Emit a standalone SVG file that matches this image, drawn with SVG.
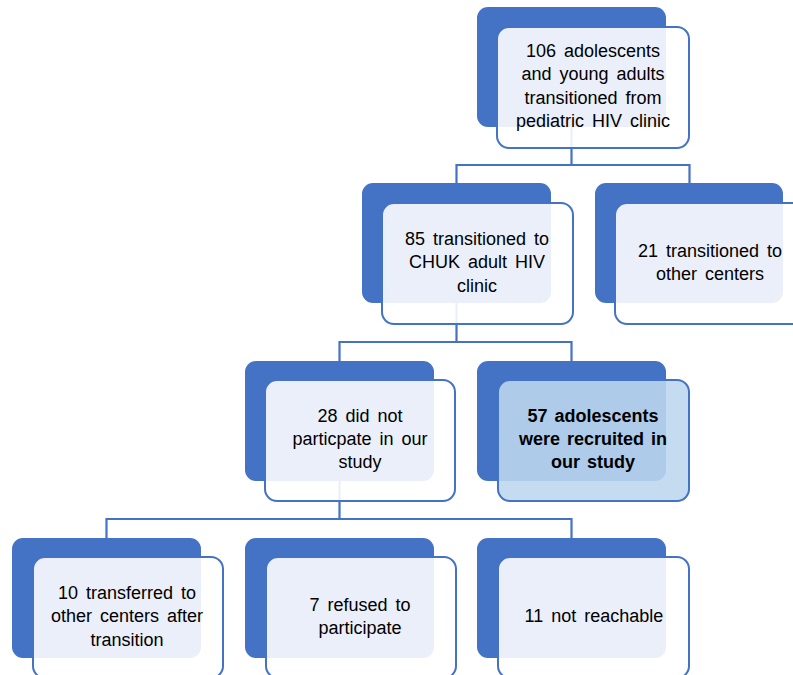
<svg xmlns="http://www.w3.org/2000/svg" width="793" height="675" viewBox="0 0 793 675">
<style>
.back{fill:#4472C4;}
.front{fill:#FFFFFF;fill-opacity:0.89;stroke:#4472C4;stroke-width:2;}
.hl{fill:#BDD7EE;fill-opacity:0.88;stroke:#4472C4;stroke-width:2;}
.con{fill:none;stroke:#4472C4;stroke-width:2.2;}
text{font-family:"Liberation Sans",Arial,sans-serif;font-size:18px;fill:#000;text-anchor:middle;word-spacing:3px;}
.b{font-weight:bold;word-spacing:2px;}
</style>
<rect width="793" height="675" fill="#FFFFFF"/>
<g id="connectors">
<path class="con" d="M571.5,127 V165 M456.5,183 V165 H689.5 V183"/>
<path class="con" d="M456.5,303 V342 M339.5,361 V342 H571.5 V361"/>
<path class="con" d="M339.5,481 V519 M106.5,538 V519 H571.5 V538"/>
</g>
<g id="n1">
<rect class="back" x="477" y="7" width="189" height="120" rx="11"/>
<rect class="front" x="497" y="27" width="192" height="121" rx="12"/>
<text x="593" y="57">106 adolescents</text>
<text x="593" y="80">and young adults</text>
<text x="593" y="104">transitioned from</text>
<text x="593" y="127">pediatric HIV clinic</text>
</g>
<g id="n2">
<rect class="back" x="362" y="183" width="189" height="120" rx="11"/>
<rect class="front" x="382" y="203" width="191" height="121" rx="12"/>
<text x="477" y="245">85 transitioned to</text>
<text x="477" y="268">CHUK adult HIV</text>
<text x="477" y="292">clinic</text>
</g>
<g id="n3">
<rect class="back" x="595" y="183" width="188" height="120" rx="11"/>
<rect class="front" x="615" y="203" width="191" height="121" rx="12"/>
<text x="710" y="257">21 transitioned to</text>
<text x="710" y="280">other centers</text>
</g>
<g id="n4">
<rect class="back" x="245" y="361" width="189" height="120" rx="11"/>
<rect class="front" x="265" y="380" width="190" height="121" rx="12"/>
<text x="360" y="422">28 did not</text>
<text x="360" y="445">particpate in our</text>
<text x="360" y="468">study</text>
</g>
<g id="n5">
<rect class="back" x="477" y="361" width="189" height="120" rx="11"/>
<rect class="hl" x="498" y="380" width="191" height="121" rx="12"/>
<text class="b" x="593" y="422">57 adolescents</text>
<text class="b" x="593" y="445">were recruited in</text>
<text class="b" x="593" y="468">our study</text>
</g>
<g id="n6">
<rect class="back" x="12" y="538" width="189" height="120" rx="11"/>
<rect class="front" x="33" y="557" width="190" height="121" rx="12"/>
<text x="127" y="599">10 transferred to</text>
<text x="127" y="622">other centers after</text>
<text x="127" y="646">transition</text>
</g>
<g id="n7">
<rect class="back" x="245" y="538" width="189" height="120" rx="11"/>
<rect class="front" x="266" y="557" width="190" height="121" rx="12"/>
<text x="360" y="611">7 refused to</text>
<text x="360" y="634">participate</text>
</g>
<g id="n8">
<rect class="back" x="477" y="538" width="189" height="120" rx="11"/>
<rect class="front" x="498" y="557" width="191" height="121" rx="12"/>
<text x="594" y="622">11 not reachable</text>
</g>
</svg>
